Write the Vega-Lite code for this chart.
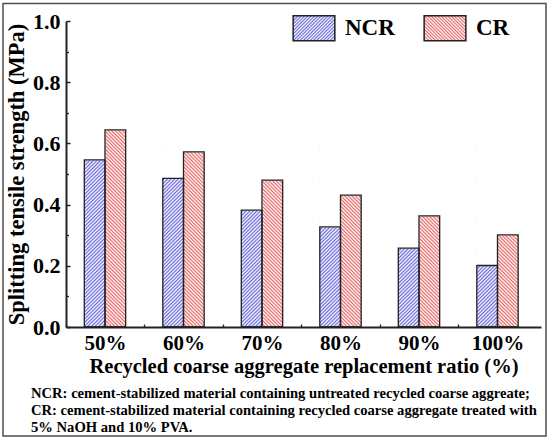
{
  "$schema": "https://vega.github.io/schema/vega-lite/v6.json",
  "width": 475,
  "height": 306,
  "autosize": "none",
  "padding": {"left": 66, "top": 21, "right": 9, "bottom": 113},
  "background": "white",
  "config": {"view": {"stroke": null}, "font": "Liberation Serif"},
  "title": {
    "text": [
      "NCR: cement-stabilized material containing untreated recycled coarse aggreate;",
      "CR: cement-stabilized material containing recycled coarse aggregate treated with",
      "5% NaOH and 10% PVA."
    ],
    "orient": "bottom",
    "anchor": "start",
    "frame": "group",
    "dx": -35,
    "offset": -51,
    "font": "Liberation Serif",
    "fontSize": 14.6,
    "fontWeight": "bold",
    "lineHeight": 17,
    "color": "black"
  },
  "layer": [
    {
      "data": {"values": [{}]},
      "mark": {"type": "rect", "filled": false, "stroke": "#4d4d4d", "strokeWidth": 1.5},
      "encoding": {
        "x": {"datum": -0.1326, "type": "quantitative", "scale": {"domain": [0, 1]}, "axis": null},
        "x2": {"datum": 1.0105},
        "y": {"datum": -0.3562, "type": "quantitative", "scale": {"domain": [0, 1]}, "axis": null},
        "y2": {"datum": 1.0572}
      }
    },
    {
      "data": {
        "values": [
          {"ratio": "50%", "type": "NCR", "value": 0.546},
          {"ratio": "50%", "type": "CR", "value": 0.644},
          {"ratio": "60%", "type": "NCR", "value": 0.486},
          {"ratio": "60%", "type": "CR", "value": 0.572},
          {"ratio": "70%", "type": "NCR", "value": 0.382},
          {"ratio": "70%", "type": "CR", "value": 0.480},
          {"ratio": "80%", "type": "NCR", "value": 0.327},
          {"ratio": "80%", "type": "CR", "value": 0.431},
          {"ratio": "90%", "type": "NCR", "value": 0.258},
          {"ratio": "90%", "type": "CR", "value": 0.363},
          {"ratio": "100%", "type": "NCR", "value": 0.201},
          {"ratio": "100%", "type": "CR", "value": 0.301}
        ]
      },
      "layer": [
        {
          "mark": {"type": "bar", "strokeWidth": 0},
          "encoding": {
            "x": {"field": "ratio", "type": "nominal", "sort": null},
            "xOffset": {"field": "type", "type": "nominal", "sort": null},
            "y": {"datum": 0.66, "type": "quantitative", "scale": {"domain": [0, 1]}, "axis": null},
            "y2": {"datum": 0},
            "fill": {
              "condition": {
                "test": "datum.type === 'NCR'",
                "value": {
                  "gradient": "linear", "x1": 0, "y1": 0, "x2": 0.1117, "y2": 1.0913,
                  "stops": [
                    {"offset": 0, "color": "#fff"}, {"offset": 0.008, "color": "#6b6bdb"}, {"offset": 0.016, "color": "#fff"}, {"offset": 0.024, "color": "#6b6bdb"}, {"offset": 0.032, "color": "#fff"}, {"offset": 0.04, "color": "#6b6bdb"}, {"offset": 0.048, "color": "#fff"}, {"offset": 0.056, "color": "#6b6bdb"}, {"offset": 0.064, "color": "#fff"}, {"offset": 0.072, "color": "#6b6bdb"},
                    {"offset": 0.08, "color": "#fff"}, {"offset": 0.088, "color": "#6b6bdb"}, {"offset": 0.096, "color": "#fff"}, {"offset": 0.104, "color": "#6b6bdb"}, {"offset": 0.112, "color": "#fff"}, {"offset": 0.12, "color": "#6b6bdb"}, {"offset": 0.128, "color": "#fff"}, {"offset": 0.136, "color": "#6b6bdb"}, {"offset": 0.144, "color": "#fff"}, {"offset": 0.152, "color": "#6b6bdb"},
                    {"offset": 0.16, "color": "#fff"}, {"offset": 0.168, "color": "#6b6bdb"}, {"offset": 0.176, "color": "#fff"}, {"offset": 0.184, "color": "#6b6bdb"}, {"offset": 0.192, "color": "#fff"}, {"offset": 0.2, "color": "#6b6bdb"}, {"offset": 0.208, "color": "#fff"}, {"offset": 0.216, "color": "#6b6bdb"}, {"offset": 0.224, "color": "#fff"}, {"offset": 0.232, "color": "#6b6bdb"},
                    {"offset": 0.24, "color": "#fff"}, {"offset": 0.248, "color": "#6b6bdb"}, {"offset": 0.256, "color": "#fff"}, {"offset": 0.264, "color": "#6b6bdb"}, {"offset": 0.272, "color": "#fff"}, {"offset": 0.28, "color": "#6b6bdb"}, {"offset": 0.288, "color": "#fff"}, {"offset": 0.296, "color": "#6b6bdb"}, {"offset": 0.304, "color": "#fff"}, {"offset": 0.312, "color": "#6b6bdb"},
                    {"offset": 0.32, "color": "#fff"}, {"offset": 0.328, "color": "#6b6bdb"}, {"offset": 0.336, "color": "#fff"}, {"offset": 0.344, "color": "#6b6bdb"}, {"offset": 0.352, "color": "#fff"}, {"offset": 0.36, "color": "#6b6bdb"}, {"offset": 0.368, "color": "#fff"}, {"offset": 0.376, "color": "#6b6bdb"}, {"offset": 0.384, "color": "#fff"}, {"offset": 0.392, "color": "#6b6bdb"},
                    {"offset": 0.4, "color": "#fff"}, {"offset": 0.408, "color": "#6b6bdb"}, {"offset": 0.416, "color": "#fff"}, {"offset": 0.424, "color": "#6b6bdb"}, {"offset": 0.432, "color": "#fff"}, {"offset": 0.44, "color": "#6b6bdb"}, {"offset": 0.448, "color": "#fff"}, {"offset": 0.456, "color": "#6b6bdb"}, {"offset": 0.464, "color": "#fff"}, {"offset": 0.472, "color": "#6b6bdb"},
                    {"offset": 0.48, "color": "#fff"}, {"offset": 0.488, "color": "#6b6bdb"}, {"offset": 0.496, "color": "#fff"}, {"offset": 0.504, "color": "#6b6bdb"}, {"offset": 0.512, "color": "#fff"}, {"offset": 0.52, "color": "#6b6bdb"}, {"offset": 0.528, "color": "#fff"}, {"offset": 0.536, "color": "#6b6bdb"}, {"offset": 0.544, "color": "#fff"}, {"offset": 0.552, "color": "#6b6bdb"},
                    {"offset": 0.56, "color": "#fff"}, {"offset": 0.568, "color": "#6b6bdb"}, {"offset": 0.576, "color": "#fff"}, {"offset": 0.584, "color": "#6b6bdb"}, {"offset": 0.592, "color": "#fff"}, {"offset": 0.6, "color": "#6b6bdb"}, {"offset": 0.608, "color": "#fff"}, {"offset": 0.616, "color": "#6b6bdb"}, {"offset": 0.624, "color": "#fff"}, {"offset": 0.632, "color": "#6b6bdb"},
                    {"offset": 0.64, "color": "#fff"}, {"offset": 0.648, "color": "#6b6bdb"}, {"offset": 0.656, "color": "#fff"}, {"offset": 0.664, "color": "#6b6bdb"}, {"offset": 0.672, "color": "#fff"}, {"offset": 0.68, "color": "#6b6bdb"}, {"offset": 0.688, "color": "#fff"}, {"offset": 0.696, "color": "#6b6bdb"}, {"offset": 0.704, "color": "#fff"}, {"offset": 0.712, "color": "#6b6bdb"},
                    {"offset": 0.72, "color": "#fff"}, {"offset": 0.728, "color": "#6b6bdb"}, {"offset": 0.736, "color": "#fff"}, {"offset": 0.744, "color": "#6b6bdb"}, {"offset": 0.752, "color": "#fff"}, {"offset": 0.76, "color": "#6b6bdb"}, {"offset": 0.768, "color": "#fff"}, {"offset": 0.776, "color": "#6b6bdb"}, {"offset": 0.784, "color": "#fff"}, {"offset": 0.792, "color": "#6b6bdb"},
                    {"offset": 0.8, "color": "#fff"}, {"offset": 0.808, "color": "#6b6bdb"}, {"offset": 0.816, "color": "#fff"}, {"offset": 0.824, "color": "#6b6bdb"}, {"offset": 0.832, "color": "#fff"}, {"offset": 0.84, "color": "#6b6bdb"}, {"offset": 0.848, "color": "#fff"}, {"offset": 0.856, "color": "#6b6bdb"}, {"offset": 0.864, "color": "#fff"}, {"offset": 0.872, "color": "#6b6bdb"},
                    {"offset": 0.88, "color": "#fff"}, {"offset": 0.888, "color": "#6b6bdb"}, {"offset": 0.896, "color": "#fff"}, {"offset": 0.904, "color": "#6b6bdb"}, {"offset": 0.912, "color": "#fff"}, {"offset": 0.92, "color": "#6b6bdb"}, {"offset": 0.928, "color": "#fff"}, {"offset": 0.936, "color": "#6b6bdb"}, {"offset": 0.944, "color": "#fff"}, {"offset": 0.952, "color": "#6b6bdb"},
                    {"offset": 0.96, "color": "#fff"}, {"offset": 0.968, "color": "#6b6bdb"}, {"offset": 0.976, "color": "#fff"}, {"offset": 0.984, "color": "#6b6bdb"}, {"offset": 0.992, "color": "#fff"}, {"offset": 1, "color": "#6b6bdb"}
                  ]
                }
              },
              "value": {
                "gradient": "linear", "x1": 1, "y1": 0, "x2": 0.8883, "y2": 1.0913,
                "stops": [
                  {"offset": 0, "color": "#fff"}, {"offset": 0.008, "color": "#e66b6a"}, {"offset": 0.016, "color": "#fff"}, {"offset": 0.024, "color": "#e66b6a"}, {"offset": 0.032, "color": "#fff"}, {"offset": 0.04, "color": "#e66b6a"}, {"offset": 0.048, "color": "#fff"}, {"offset": 0.056, "color": "#e66b6a"}, {"offset": 0.064, "color": "#fff"}, {"offset": 0.072, "color": "#e66b6a"},
                  {"offset": 0.08, "color": "#fff"}, {"offset": 0.088, "color": "#e66b6a"}, {"offset": 0.096, "color": "#fff"}, {"offset": 0.104, "color": "#e66b6a"}, {"offset": 0.112, "color": "#fff"}, {"offset": 0.12, "color": "#e66b6a"}, {"offset": 0.128, "color": "#fff"}, {"offset": 0.136, "color": "#e66b6a"}, {"offset": 0.144, "color": "#fff"}, {"offset": 0.152, "color": "#e66b6a"},
                  {"offset": 0.16, "color": "#fff"}, {"offset": 0.168, "color": "#e66b6a"}, {"offset": 0.176, "color": "#fff"}, {"offset": 0.184, "color": "#e66b6a"}, {"offset": 0.192, "color": "#fff"}, {"offset": 0.2, "color": "#e66b6a"}, {"offset": 0.208, "color": "#fff"}, {"offset": 0.216, "color": "#e66b6a"}, {"offset": 0.224, "color": "#fff"}, {"offset": 0.232, "color": "#e66b6a"},
                  {"offset": 0.24, "color": "#fff"}, {"offset": 0.248, "color": "#e66b6a"}, {"offset": 0.256, "color": "#fff"}, {"offset": 0.264, "color": "#e66b6a"}, {"offset": 0.272, "color": "#fff"}, {"offset": 0.28, "color": "#e66b6a"}, {"offset": 0.288, "color": "#fff"}, {"offset": 0.296, "color": "#e66b6a"}, {"offset": 0.304, "color": "#fff"}, {"offset": 0.312, "color": "#e66b6a"},
                  {"offset": 0.32, "color": "#fff"}, {"offset": 0.328, "color": "#e66b6a"}, {"offset": 0.336, "color": "#fff"}, {"offset": 0.344, "color": "#e66b6a"}, {"offset": 0.352, "color": "#fff"}, {"offset": 0.36, "color": "#e66b6a"}, {"offset": 0.368, "color": "#fff"}, {"offset": 0.376, "color": "#e66b6a"}, {"offset": 0.384, "color": "#fff"}, {"offset": 0.392, "color": "#e66b6a"},
                  {"offset": 0.4, "color": "#fff"}, {"offset": 0.408, "color": "#e66b6a"}, {"offset": 0.416, "color": "#fff"}, {"offset": 0.424, "color": "#e66b6a"}, {"offset": 0.432, "color": "#fff"}, {"offset": 0.44, "color": "#e66b6a"}, {"offset": 0.448, "color": "#fff"}, {"offset": 0.456, "color": "#e66b6a"}, {"offset": 0.464, "color": "#fff"}, {"offset": 0.472, "color": "#e66b6a"},
                  {"offset": 0.48, "color": "#fff"}, {"offset": 0.488, "color": "#e66b6a"}, {"offset": 0.496, "color": "#fff"}, {"offset": 0.504, "color": "#e66b6a"}, {"offset": 0.512, "color": "#fff"}, {"offset": 0.52, "color": "#e66b6a"}, {"offset": 0.528, "color": "#fff"}, {"offset": 0.536, "color": "#e66b6a"}, {"offset": 0.544, "color": "#fff"}, {"offset": 0.552, "color": "#e66b6a"},
                  {"offset": 0.56, "color": "#fff"}, {"offset": 0.568, "color": "#e66b6a"}, {"offset": 0.576, "color": "#fff"}, {"offset": 0.584, "color": "#e66b6a"}, {"offset": 0.592, "color": "#fff"}, {"offset": 0.6, "color": "#e66b6a"}, {"offset": 0.608, "color": "#fff"}, {"offset": 0.616, "color": "#e66b6a"}, {"offset": 0.624, "color": "#fff"}, {"offset": 0.632, "color": "#e66b6a"},
                  {"offset": 0.64, "color": "#fff"}, {"offset": 0.648, "color": "#e66b6a"}, {"offset": 0.656, "color": "#fff"}, {"offset": 0.664, "color": "#e66b6a"}, {"offset": 0.672, "color": "#fff"}, {"offset": 0.68, "color": "#e66b6a"}, {"offset": 0.688, "color": "#fff"}, {"offset": 0.696, "color": "#e66b6a"}, {"offset": 0.704, "color": "#fff"}, {"offset": 0.712, "color": "#e66b6a"},
                  {"offset": 0.72, "color": "#fff"}, {"offset": 0.728, "color": "#e66b6a"}, {"offset": 0.736, "color": "#fff"}, {"offset": 0.744, "color": "#e66b6a"}, {"offset": 0.752, "color": "#fff"}, {"offset": 0.76, "color": "#e66b6a"}, {"offset": 0.768, "color": "#fff"}, {"offset": 0.776, "color": "#e66b6a"}, {"offset": 0.784, "color": "#fff"}, {"offset": 0.792, "color": "#e66b6a"},
                  {"offset": 0.8, "color": "#fff"}, {"offset": 0.808, "color": "#e66b6a"}, {"offset": 0.816, "color": "#fff"}, {"offset": 0.824, "color": "#e66b6a"}, {"offset": 0.832, "color": "#fff"}, {"offset": 0.84, "color": "#e66b6a"}, {"offset": 0.848, "color": "#fff"}, {"offset": 0.856, "color": "#e66b6a"}, {"offset": 0.864, "color": "#fff"}, {"offset": 0.872, "color": "#e66b6a"},
                  {"offset": 0.88, "color": "#fff"}, {"offset": 0.888, "color": "#e66b6a"}, {"offset": 0.896, "color": "#fff"}, {"offset": 0.904, "color": "#e66b6a"}, {"offset": 0.912, "color": "#fff"}, {"offset": 0.92, "color": "#e66b6a"}, {"offset": 0.928, "color": "#fff"}, {"offset": 0.936, "color": "#e66b6a"}, {"offset": 0.944, "color": "#fff"}, {"offset": 0.952, "color": "#e66b6a"},
                  {"offset": 0.96, "color": "#fff"}, {"offset": 0.968, "color": "#e66b6a"}, {"offset": 0.976, "color": "#fff"}, {"offset": 0.984, "color": "#e66b6a"}, {"offset": 0.992, "color": "#fff"}, {"offset": 1, "color": "#e66b6a"}
                ]
              }
            }
          }
        },
        {
          "mark": {"type": "bar", "fill": "white", "stroke": "white", "strokeWidth": 1},
          "encoding": {
            "x": {"field": "ratio", "type": "nominal", "sort": null},
            "xOffset": {"field": "type", "type": "nominal", "sort": null},
            "y": {
              "field": "value",
              "type": "quantitative",
              "scale": {"domain": [0, 1]},
              "axis": {
                "orient": "left",
                "values": [0.1, 0.3, 0.5, 0.7, 0.9],
                "labels": false,
                "domain": false,
                "grid": false,
                "title": null,
                "tickSize": -2.5,
                "tickWidth": 1.3,
                "tickColor": "#222"
              }
            },
            "y2": {"datum": 0.66}
          }
        },
        {
          "mark": {"type": "bar", "fill": "transparent", "stroke": "#222222", "strokeWidth": 1.3},
          "encoding": {
            "x": {
              "field": "ratio",
              "type": "nominal",
              "sort": null,
              "scale": {
                "domain": ["50%", "60%", "70%", "80%", "90%", "100%"],
                "paddingInner": 0.473,
                "paddingOuter": 0.262,
                "align": 0.445
              },
              "axis": {
                "title": "Recycled coarse aggregate replacement ratio (%)",
                "labelAngle": 0,
                "labelAlign": "center",
                "tickOffset": -39.25,
                "labelOffset": 39.25,
                "tickSize": -3,
                "tickWidth": 1.3,
                "tickColor": "#222",
                "domainColor": "#222",
                "domainWidth": 2,
                "grid": false,
                "labelFont": "Liberation Serif",
                "labelFontWeight": "bold",
                "labelFontSize": 21,
                "labelColor": "black",
                "labelPadding": 19,
                "titleFont": "Liberation Serif",
                "titleFontWeight": "bold",
                "titleFontSize": 20.5,
                "titleColor": "black",
                "titlePadding": 3
              }
            },
            "xOffset": {
              "field": "type",
              "type": "nominal",
              "sort": null,
              "scale": {"domain": ["NCR", "CR"], "paddingInner": 0, "paddingOuter": 0}
            },
            "y": {
              "field": "value",
              "type": "quantitative",
              "scale": {"domain": [0, 1], "nice": false},
              "axis": {
                "orient": "left",
                "values": [0, 0.2, 0.4, 0.6, 0.8, 1],
                "format": ".1f",
                "title": "Splitting tensile strength (MPa)",
                "grid": false,
                "tickSize": -4,
                "tickWidth": 1.5,
                "tickColor": "#222",
                "domainColor": "#222",
                "domainWidth": 2,
                "labelFont": "Liberation Serif",
                "labelFontWeight": "bold",
                "labelFontSize": 22,
                "labelColor": "black",
                "labelPadding": 10,
                "titleFont": "Liberation Serif",
                "titleFontWeight": "bold",
                "titleFontSize": 22.5,
                "titleColor": "black",
                "titlePadding": 4
              }
            }
          }
        },
        {
          "mark": {"type": "bar", "stroke": "#222222", "strokeWidth": 1.5},
          "encoding": {
            "x": {"field": "ratio", "type": "nominal", "sort": null},
            "xOffset": {"field": "type", "type": "nominal", "sort": null},
            "y": {"datum": 0, "type": "quantitative", "scale": {"domain": [0, 1]}, "axis": null},
            "y2": {"datum": 0},
            "fill": {
              "field": "type",
              "type": "nominal",
              "sort": null,
              "scale": {
                "domain": ["NCR", "CR"],
                "range": [
                  {"expr": "{gradient: 'linear', x1: 0, y1: 0, x2: 1.1765, y2: 0.7059, stops: [{offset: 0, color: '#fff'}, {offset: 0.025, color: '#6b6bdb'}, {offset: 0.05, color: '#fff'}, {offset: 0.075, color: '#6b6bdb'}, {offset: 0.1, color: '#fff'}, {offset: 0.125, color: '#6b6bdb'}, {offset: 0.15, color: '#fff'}, {offset: 0.175, color: '#6b6bdb'}, {offset: 0.2, color: '#fff'}, {offset: 0.225, color: '#6b6bdb'}, {offset: 0.25, color: '#fff'}, {offset: 0.275, color: '#6b6bdb'}, {offset: 0.3, color: '#fff'}, {offset: 0.325, color: '#6b6bdb'}, {offset: 0.35, color: '#fff'}, {offset: 0.375, color: '#6b6bdb'}, {offset: 0.4, color: '#fff'}, {offset: 0.425, color: '#6b6bdb'}, {offset: 0.45, color: '#fff'}, {offset: 0.475, color: '#6b6bdb'}, {offset: 0.5, color: '#fff'}, {offset: 0.525, color: '#6b6bdb'}, {offset: 0.55, color: '#fff'}, {offset: 0.575, color: '#6b6bdb'}, {offset: 0.6, color: '#fff'}, {offset: 0.625, color: '#6b6bdb'}, {offset: 0.65, color: '#fff'}, {offset: 0.675, color: '#6b6bdb'}, {offset: 0.7, color: '#fff'}, {offset: 0.725, color: '#6b6bdb'}, {offset: 0.75, color: '#fff'}, {offset: 0.775, color: '#6b6bdb'}, {offset: 0.8, color: '#fff'}, {offset: 0.825, color: '#6b6bdb'}, {offset: 0.85, color: '#fff'}, {offset: 0.875, color: '#6b6bdb'}, {offset: 0.9, color: '#fff'}, {offset: 0.925, color: '#6b6bdb'}, {offset: 0.95, color: '#fff'}, {offset: 0.975, color: '#6b6bdb'}, {offset: 1, color: '#fff'}]}"},
                  {"expr": "{gradient: 'linear', x1: 1, y1: 0, x2: -0.1765, y2: 0.7059, stops: [{offset: 0, color: '#fff'}, {offset: 0.025, color: '#e66b6a'}, {offset: 0.05, color: '#fff'}, {offset: 0.075, color: '#e66b6a'}, {offset: 0.1, color: '#fff'}, {offset: 0.125, color: '#e66b6a'}, {offset: 0.15, color: '#fff'}, {offset: 0.175, color: '#e66b6a'}, {offset: 0.2, color: '#fff'}, {offset: 0.225, color: '#e66b6a'}, {offset: 0.25, color: '#fff'}, {offset: 0.275, color: '#e66b6a'}, {offset: 0.3, color: '#fff'}, {offset: 0.325, color: '#e66b6a'}, {offset: 0.35, color: '#fff'}, {offset: 0.375, color: '#e66b6a'}, {offset: 0.4, color: '#fff'}, {offset: 0.425, color: '#e66b6a'}, {offset: 0.45, color: '#fff'}, {offset: 0.475, color: '#e66b6a'}, {offset: 0.5, color: '#fff'}, {offset: 0.525, color: '#e66b6a'}, {offset: 0.55, color: '#fff'}, {offset: 0.575, color: '#e66b6a'}, {offset: 0.6, color: '#fff'}, {offset: 0.625, color: '#e66b6a'}, {offset: 0.65, color: '#fff'}, {offset: 0.675, color: '#e66b6a'}, {offset: 0.7, color: '#fff'}, {offset: 0.725, color: '#e66b6a'}, {offset: 0.75, color: '#fff'}, {offset: 0.775, color: '#e66b6a'}, {offset: 0.8, color: '#fff'}, {offset: 0.825, color: '#e66b6a'}, {offset: 0.85, color: '#fff'}, {offset: 0.875, color: '#e66b6a'}, {offset: 0.9, color: '#fff'}, {offset: 0.925, color: '#e66b6a'}, {offset: 0.95, color: '#fff'}, {offset: 0.975, color: '#e66b6a'}, {offset: 1, color: '#fff'}]}"}
                ]
              },
              "legend": {
                "title": null,
                "orient": "none",
                "legendX": 226,
                "legendY": -15,
                "direction": "horizontal",
                "padding": 0,
                "symbolType": "M-1,-0.6H1V0.6H-1Z",
                "symbolSize": 1739,
                "symbolStrokeWidth": 1.5,
                "symbolStrokeColor": "#222222",
                "labelFont": "Liberation Serif",
                "labelFontWeight": "bold",
                "labelFontSize": 23,
                "labelColor": "black",
                "labelOffset": 9,
                "columnPadding": 26
              }
            }
          }
        }
      ],
      "resolve": {"axis": {"y": "independent"}}
    }
  ],
  "resolve": {"scale": {"x": "independent"}, "axis": {"y": "independent"}}
}
